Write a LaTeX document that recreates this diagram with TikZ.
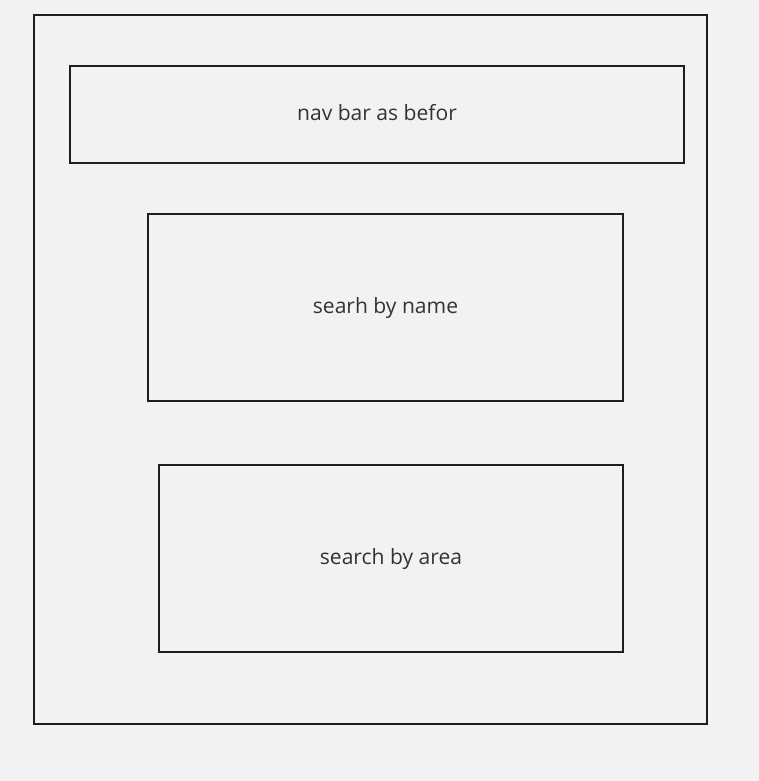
\documentclass[tikz,border=0pt]{standalone}
\usepackage{fontspec}
\setmainfont{Open Sans}
\definecolor{pagebg}{RGB}{242,242,242}
\definecolor{boxline}{RGB}{30,30,30}
\definecolor{boxtext}{RGB}{51,51,51}
\tikzset{
  panel/.style={draw=boxline, line width=1.6pt, inner sep=0pt, text=boxtext, font=\fontsize{15.8}{19}\selectfont},
  label/.style={panel, draw=none, anchor=base},
}
\begin{document}
\begin{tikzpicture}[x=0.75pt,y=0.75pt,yscale=-1,xscale=1]
%set diagram left start at 0, and has height of 781
\fill [pagebg] (0,0) rectangle (759,781);
\useasboundingbox (0,0) rectangle (759,781);

%Shape: Rectangle [id:page]
\node [panel, minimum width=504.75pt, minimum height=531.75pt] (page) at (370.5,369.5) {};
%Shape: Rectangle [id:navbar]
\node [panel, minimum width=460.5pt, minimum height=72.75pt] (navbar) at (377,114.5) {};
%Shape: Rectangle [id:byname]
\node [panel, minimum width=356.25pt, minimum height=140.25pt] (byname) at (385.5,307.5) {};
%Shape: Rectangle [id:byarea]
\node [panel, minimum width=348pt, minimum height=140.25pt] (byarea) at (391,558.5) {};

% Text Node
\node [label] (navlabel) at ([yshift=4.75pt]navbar.center) {nav bar as befor};
% Text Node
\node [label] (namelabel) at ([yshift=4.25pt]byname.center) {searh by name};
% Text Node
\node [label] (arealabel) at ([yshift=4.5pt]byarea.center) {search by area};

\end{tikzpicture}
\end{document}
